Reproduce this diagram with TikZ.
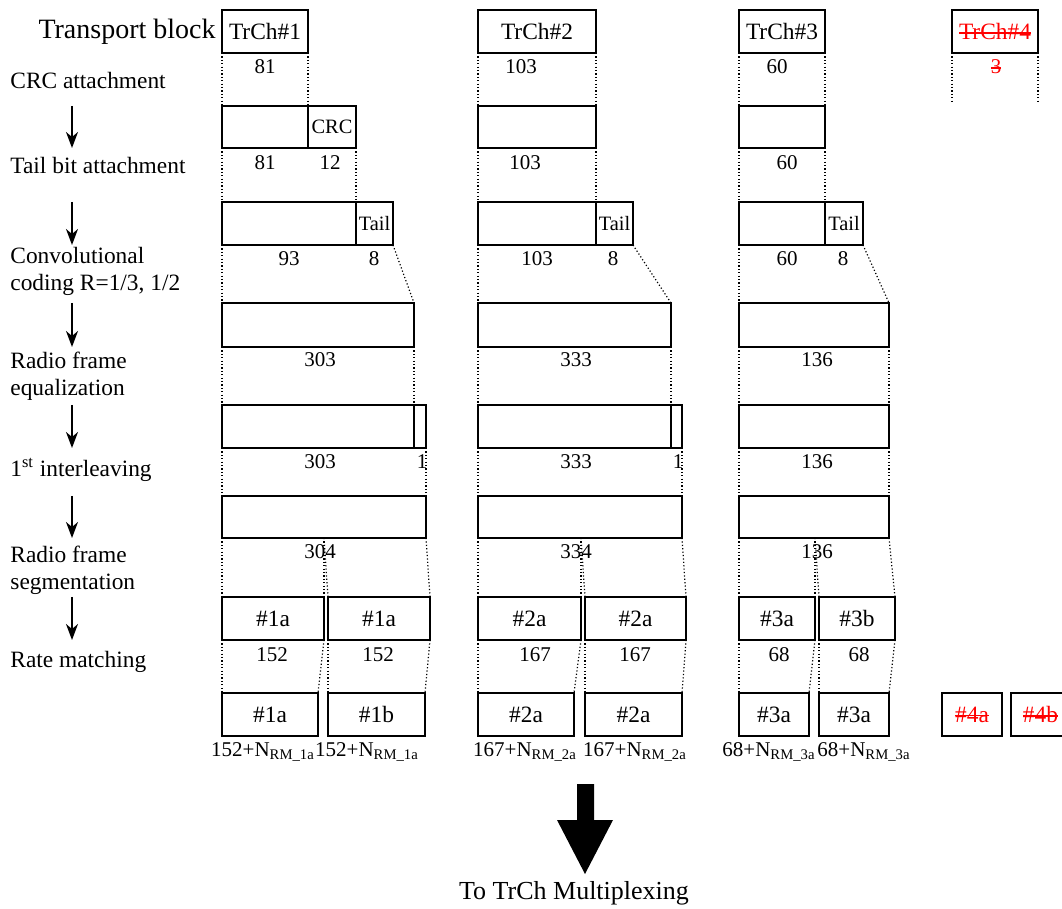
\documentclass[tikz,border=0pt]{standalone}
\usepackage{fontspec}
\setmainfont{Liberation Serif}
\usetikzlibrary{arrows.meta, fit, calc}
\newlength\strikewd
\newcommand\strike[1]{\settowidth{\strikewd}{#1}\rlap{#1}\rule[0.24em]{\strikewd}{0.7pt}}
\tikzset{
  blk/.style={draw, line width=1pt, inner sep=0pt, outer sep=0pt},
  boxtxt/.style={inner sep=0pt, font=\fontsize{11.7}{14}\selectfont},
  smalltxt/.style={inner sep=0pt, font=\fontsize{10.2}{12}\selectfont},
  num/.style={inner sep=0pt, font=\fontsize{10.5}{12}\selectfont},
  sumlbl/.style={num, anchor=center},
  steplbl/.style={anchor=west, align=left, inner sep=0pt,
                  font=\fontsize{11.7}{13.5}\selectfont},
  dots/.style={line width=0.6pt, dash pattern=on 0.6pt off 1.1pt},
  stepar/.style={-{Stealth[length=8pt, width=6pt, inset=2.5pt]}, line width=0.8pt},
}

\begin{document}
\begin{tikzpicture}[x=0.5pt, y=-0.5pt]
  \useasboundingbox (0,0) rectangle (1062,909);
  \clip (0,0) rectangle (1062,909);

  % Step labels
  \node[anchor=east, inner sep=0pt, font=\fontsize{14}{16}\selectfont] (ltb) at (216,32) {Transport block};
  \node[steplbl] (lcrc)  at (10,80)  {CRC attachment};
  \node[steplbl] (ltail) at (10,165) {Tail bit attachment};
  \node[steplbl] (lconv) at (10,271) {Convolutional\\coding R=1/3, 1/2};
  \node[steplbl] (leq)   at (10,376) {Radio frame\\equalization};
  \node[steplbl] (lil)   at (10,470) {1\textsuperscript{st} interleaving};
  \node[steplbl] (lseg)  at (10,570) {Radio frame\\segmentation};
  \node[steplbl] (lrm)   at (10,662) {Rate matching};

  % TrCh#1
  \node[blk, fit={(222,10) (308,53)}, label={[boxtxt]center:TrCh\#1}] (tb1) {};
  \node[blk, fit={(222,106) (308,148)}] (crc1) {};
  \node[blk, fit={(308,106) (356,148)}, label={[smalltxt]center:CRC}] (crcb1) {};
  \node[blk, fit={(222,202) (356,245)}] (tl1) {};
  \node[blk, fit={(356,202) (393,245)}, label={[smalltxt]center:Tail}] (tlb1) {};
  \node[blk, fit={(222,303) (414,347)}] (cc1) {};
  \node[blk, fit={(222,405) (414,448)}] (eq1) {};
  \node[blk, fit={(414,405) (426,448)}] (eqp1) {};
  \node[blk, fit={(222,496) (426,538)}] (il1) {};
  \node[blk, fit={(222,597) (324,640)}, label={[boxtxt]center:\#1a}] (rm1a) {};
  \node[blk, fit={(328,597) (430,640)}, label={[boxtxt]center:\#1a}] (rm1b) {};
  \node[blk, fit={(222,693) (318,736)}, label={[boxtxt]center:\#1a}] (rt1a) {};
  \node[blk, fit={(328,693) (425,736)}, label={[boxtxt]center:\#1b}] (rt1b) {};

  \node[num] (n1a) at (265,67)  {81};
  \node[num] (n1b) at (265,163) {81};
  \node[num] (n1c) at (330,163) {12};
  \node[num] (n1d) at (289,259) {93};
  \node[num] (n1e) at (374,259) {8};
  \node[num] (n1f) at (320,360) {303};
  \node[num] (n1g) at (320,462) {303};
  \node[num] (n1h) at (422,462) {1};
  \node[num] (n1i) at (320,552) {304};
  \node[num] (n1j) at (272,655) {152};
  \node[num] (n1k) at (378,655) {152};
  \node[sumlbl] (n1l) at (263,752) {152+N\textsubscript{RM\_1a}};
  \node[sumlbl] (n1m) at (367,752) {152+N\textsubscript{RM\_1a}};

  \draw[dots] (tb1.south west)  -- (crc1.north west);
  \draw[dots] (tb1.south east)  -- (crc1.north east);
  \draw[dots] (crc1.south west) -- (tl1.north west);
  \draw[dots] (crcb1.south east) -- (tl1.north east);
  \draw[dots] (tl1.south west)  -- (cc1.north west);
  \draw[dots] (tlb1.south east) -- (cc1.north east);
  \draw[dots] (cc1.south west)  -- (eq1.north west);
  \draw[dots] (cc1.south east)  -- (eq1.north east);
  \draw[dots] (eq1.south west)  -- (il1.north west);
  \draw[dots] (eqp1.south east) -- (il1.north east);
  \draw[dots] (il1.south west)  -- (rm1a.north west);
  \draw[dots] (il1.south east)  -- (rm1b.north east);
  \draw[dots] (rm1a.north east |- il1.south) -- (rm1a.north east);
  \draw[dots] (rm1a.north east |- il1.south) -- (rm1b.north west);
  \draw[dots] (rm1a.south west) -- (rt1a.north west);
  \draw[dots] (rm1a.south east) -- (rt1a.north east);
  \draw[dots] (rm1b.south west) -- (rt1b.north west);
  \draw[dots] (rm1b.south east) -- (rt1b.north east);

  % TrCh#2
  \node[blk, fit={(478,10) (596,53)}, label={[boxtxt]center:TrCh\#2}] (tb2) {};
  \node[blk, fit={(478,106) (596,148)}] (crc2) {};
  \node[blk, fit={(478,202) (596,245)}] (tl2) {};
  \node[blk, fit={(596,202) (633,245)}, label={[smalltxt]center:Tail}] (tlb2) {};
  \node[blk, fit={(478,303) (671,347)}] (cc2) {};
  \node[blk, fit={(478,405) (671,448)}] (eq2) {};
  \node[blk, fit={(671,405) (682,448)}] (eqp2) {};
  \node[blk, fit={(478,496) (682,538)}] (il2) {};
  \node[blk, fit={(478,597) (581,640)}, label={[boxtxt]center:\#2a}] (rm2a) {};
  \node[blk, fit={(585,597) (686,640)}, label={[boxtxt]center:\#2a}] (rm2b) {};
  \node[blk, fit={(478,693) (574,736)}, label={[boxtxt]center:\#2a}] (rt2a) {};
  \node[blk, fit={(585,693) (682,736)}, label={[boxtxt]center:\#2a}] (rt2b) {};

  \node[num] (n2a) at (521,67)  {103};
  \node[num] (n2b) at (525,163) {103};
  \node[num] (n2c) at (537,259) {103};
  \node[num] (n2d) at (613,259) {8};
  \node[num] (n2e) at (576,360) {333};
  \node[num] (n2f) at (576,462) {333};
  \node[num] (n2g) at (678,462) {1};
  \node[num] (n2h) at (576,552) {334};
  \node[num] (n2i) at (535,655) {167};
  \node[num] (n2j) at (635,655) {167};
  \node[sumlbl] (n2k) at (525,752) {167+N\textsubscript{RM\_2a}};
  \node[sumlbl] (n2l) at (635,752) {167+N\textsubscript{RM\_2a}};

  \draw[dots] (tb2.south west)  -- (crc2.north west);
  \draw[dots] (tb2.south east)  -- (crc2.north east);
  \draw[dots] (crc2.south west) -- (tl2.north west);
  \draw[dots] (crc2.south east) -- (tl2.north east);
  \draw[dots] (tl2.south west)  -- (cc2.north west);
  \draw[dots] (tlb2.south east) -- (cc2.north east);
  \draw[dots] (cc2.south west)  -- (eq2.north west);
  \draw[dots] (cc2.south east)  -- (eq2.north east);
  \draw[dots] (eq2.south west)  -- (il2.north west);
  \draw[dots] (eqp2.south east) -- (il2.north east);
  \draw[dots] (il2.south west)  -- (rm2a.north west);
  \draw[dots] (il2.south east)  -- (rm2b.north east);
  \draw[dots] (rm2a.north east |- il2.south) -- (rm2a.north east);
  \draw[dots] (rm2a.north east |- il2.south) -- (rm2b.north west);
  \draw[dots] (rm2a.south west) -- (rt2a.north west);
  \draw[dots] (rm2a.south east) -- (rt2a.north east);
  \draw[dots] (rm2b.south west) -- (rt2b.north west);
  \draw[dots] (rm2b.south east) -- (rt2b.north east);

  % TrCh#3
  \node[blk, fit={(739,10) (825,53)}, label={[boxtxt]center:TrCh\#3}] (tb3) {};
  \node[blk, fit={(739,106) (825,148)}] (crc3) {};
  \node[blk, fit={(739,202) (825,245)}] (tl3) {};
  \node[blk, fit={(825,202) (863,245)}, label={[smalltxt]center:Tail}] (tlb3) {};
  \node[blk, fit={(739,303) (889,347)}] (cc3) {};
  \node[blk, fit={(739,405) (889,448)}] (eq3) {};
  \node[blk, fit={(739,496) (889,538)}] (il3) {};
  \node[blk, fit={(739,597) (815,640)}, label={[boxtxt]center:\#3a}] (rm3a) {};
  \node[blk, fit={(819,597) (895,640)}, label={[boxtxt]center:\#3b}] (rm3b) {};
  \node[blk, fit={(739,693) (809,736)}, label={[boxtxt]center:\#3a}] (rt3a) {};
  \node[blk, fit={(819,693) (889,736)}, label={[boxtxt]center:\#3a}] (rt3b) {};

  \node[num] (n3a) at (777,67)  {60};
  \node[num] (n3b) at (787,163) {60};
  \node[num] (n3c) at (787,259) {60};
  \node[num] (n3d) at (843,259) {8};
  \node[num] (n3e) at (817,360) {136};
  \node[num] (n3f) at (817,462) {136};
  \node[num] (n3g) at (817,552) {136};
  \node[num] (n3h) at (779,655) {68};
  \node[num] (n3i) at (859,655) {68};
  \node[sumlbl] (n3j) at (769,752) {68+N\textsubscript{RM\_3a}};
  \node[sumlbl] (n3k) at (864,752) {68+N\textsubscript{RM\_3a}};

  \draw[dots] (tb3.south west)  -- (crc3.north west);
  \draw[dots] (tb3.south east)  -- (crc3.north east);
  \draw[dots] (crc3.south west) -- (tl3.north west);
  \draw[dots] (crc3.south east) -- (tl3.north east);
  \draw[dots] (tl3.south west)  -- (cc3.north west);
  \draw[dots] (tlb3.south east) -- (cc3.north east);
  \draw[dots] (cc3.south west)  -- (eq3.north west);
  \draw[dots] (cc3.south east)  -- (eq3.north east);
  \draw[dots] (eq3.south west)  -- (il3.north west);
  \draw[dots] (eq3.south east)  -- (il3.north east);
  \draw[dots] (il3.south west)  -- (rm3a.north west);
  \draw[dots] (il3.south east)  -- (rm3b.north east);
  \draw[dots] (rm3a.north east |- il3.south) -- (rm3a.north east);
  \draw[dots] (rm3a.north east |- il3.south) -- (rm3b.north west);
  \draw[dots] (rm3a.south west) -- (rt3a.north west);
  \draw[dots] (rm3a.south east) -- (rt3a.north east);
  \draw[dots] (rm3b.south west) -- (rt3b.north west);
  \draw[dots] (rm3b.south east) -- (rt3b.north east);

  % TrCh#4 (removed)
  \node[blk, fit={(952,10) (1038,53)}, label={[boxtxt, text=red]center:\strike{TrCh\#4}}] (tb4) {};
  \node[num, text=red] (n4a) at (996,67) {\strike{3}};
  \coordinate (e4l) at (952,103);
  \coordinate (e4r) at (1038,103);
  \draw[dots] (tb4.south west) -- (e4l);
  \draw[dots] (tb4.south east) -- (e4r);
  \node[blk, fit={(942,693) (1002,736)}, label={[boxtxt, text=red]center:\strike{\#4a}}] (rt4a) {};
  \node[blk, fit={(1011,693) (1070,736)}, label={[boxtxt, text=red]center:\strike{\#4b}}] (rt4b) {};

  % Step arrows
  \coordinate (ax) at (72,0);
  \draw[stepar] (crc1.north -| ax) -- (crc1.south -| ax);
  \draw[stepar] (tl1.north -| ax)  -- (tl1.south -| ax);
  \draw[stepar] (cc1.north -| ax)  -- (cc1.south -| ax);
  \draw[stepar] (eq1.north -| ax)  -- (eq1.south -| ax);
  \draw[stepar] (il1.north -| ax)  -- (il1.south -| ax);
  \draw[stepar] (rm1a.north -| ax) -- (rm1a.south -| ax);

  % To multiplexing
  \node[inner sep=0pt, anchor=base, font=\fontsize{13}{15}\selectfont] (mux) at (574,899) {To TrCh Multiplexing};
  \fill (577,784) -- (594,784) -- (594,820) -- (613,820) -- (585,874) -- (557,820) -- (577,820) -- cycle;
\end{tikzpicture}
\end{document}
